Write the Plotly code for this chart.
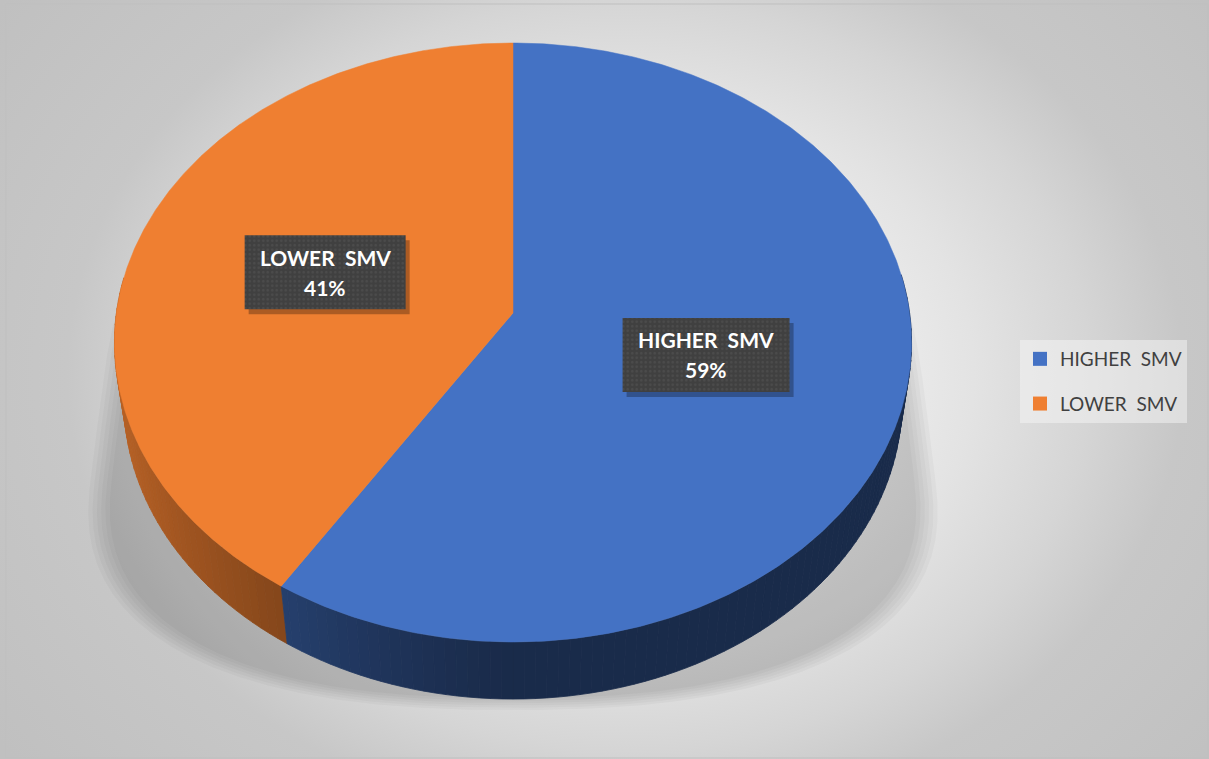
import numpy as np
import plotly.graph_objects as go

# ---------------- data ----------------
categories = ["HIGHER\u00a0\u00a0SMV", "LOWER\u00a0\u00a0SMV"]
values = [59, 41]
slice_colors = ["#4472C4", "#EF7F31"]

# ---------------- geometry / style ----------------
W, H = 1209, 759
PIE_CX, PIE_CY = 513.0, 313.0      # screen position of pie centre (top face)
PIE_RX, PIE_RY = 396.6, 296.6      # radii
PERSP = 0.0985                      # perspective strength (depth direction)
DEPTH_PX, DEPTH_PERSP = 60.8, 0.0243
LABEL_R = 0.5
LABEL_BOX_W = [167, 161]
LABEL_BOX_H = 74
FONT = "Lato"


def project(theta_deg, r=1.0, z=0.0):
    t = np.radians(theta_deg)
    X = r * np.sin(t)
    Y = -r * np.cos(t)
    w = 1 - PERSP * Y + DEPTH_PERSP * z
    return PIE_CX + PIE_RX * X / w, PIE_CY + (PIE_RY * Y + DEPTH_PX * z) / w


def hex_rgb(h):
    h = h.lstrip("#")
    return [int(h[i:i + 2], 16) for i in (0, 2, 4)]


def shade(h, f):
    r, g, b = hex_rgb(h)
    return "rgb(%d,%d,%d)" % (min(255, r * f), min(255, g * f), min(255, b * f))


fig = go.Figure()

# background panel with radial gradient
fig.add_trace(go.Scatter(
    x=[-150, 1400, 1400, -150, -150], y=[-250, -250, 1000, 1000, -250], mode="lines",
    line=dict(width=0), fill="toself",
    fillgradient=dict(type="radial",
                      colorscale=[[0, "#f7f7f7"], [0.3, "#eeeeee"], [0.45, "#e3e3e3"],
                                  [0.6, "#d5d5d5"], [0.72, "#c7c7c7"], [1, "#c0c0c0"]]),
    hoverinfo="skip", showlegend=False))

# soft shadow behind the pie (layered)
SH_CY = 478.0


def shadow_outline(scale):
    phi = np.linspace(0, 2 * np.pi, 721)
    c, s = np.cos(phi), np.sin(phi)
    n = np.where(s < 0, 6.0, 2.4)
    b = np.where(s < 0, 255.0, 232.0)
    yy = SH_CY + b * scale * np.sign(s) * np.abs(s) ** (2 / n)
    a = 425 + 0.126 * (yy - 500)
    xx = PIE_CX + a * scale * np.sign(c) * np.abs(c) ** (2 / n)
    return xx, yy


for sc in [1.0, 0.99, 0.98, 0.97, 0.96, 0.95]:
    xx, yy = shadow_outline(sc)
    fig.add_trace(go.Scatter(x=xx, y=yy, mode="lines", line=dict(width=0),
                             fill="toself", fillcolor="rgba(0,0,0,0.028)",
                             hoverinfo="skip", showlegend=False))

# slice angle ranges
total = float(sum(values))
ranges = []
acc = 0.0
for v in values:
    a0 = 360 * acc / total
    acc += v
    a1 = 360 * acc / total
    ranges.append((a0, a1))

# side strips
strips = []
for (a0, a1), col in zip(ranges, slice_colors):
    edges = np.arange(a0, a1, 1.5)
    edges = np.append(edges, a1)
    for ta, tb in zip(edges[:-1], edges[1:]):
        tm = 0.5 * (ta + tb)
        ymid = -np.cos(np.radians(tm))
        if ymid < -0.12:
            continue
        bright = 0.38 + 0.40 * max(0.0, -np.sin(np.radians(tm))) ** 1.3
        strips.append((ymid, ta, tb, shade(col, bright)))
strips.sort(key=lambda s: s[0])
for _, ta, tb, colr in strips:
    th = np.linspace(ta, tb, 4)
    xt, yt = project(th, 1.0, 0.0)
    xb, yb = project(th[::-1], 1.0, 1.0)
    xs = np.concatenate([xt, xb, xt[:1]])
    ys = np.concatenate([yt, yb, yt[:1]])
    fig.add_trace(go.Scatter(x=xs, y=ys, mode="lines", line=dict(width=0.8, color=colr),
                             fill="toself", fillcolor=colr, hoverinfo="skip",
                             showlegend=False))

# top faces
for (a0, a1), col, name in zip(ranges, slice_colors, categories):
    th = np.linspace(a0, a1, 400)
    xa, ya = project(th, 1.0, 0.0)
    cx, cy = project(0.0, 0.0, 0.0)
    xs = np.concatenate([[cx], xa, [cx]])
    ys = np.concatenate([[cy], ya, [cy]])
    fig.add_trace(go.Scatter(x=xs, y=ys, mode="lines", line=dict(width=0.5, color=col),
                             fill="toself", fillcolor=col, hoverinfo="skip",
                             showlegend=False))

# data labels
annotations = []
for (a0, a1), name, v, bw in zip(ranges, categories, values, LABEL_BOX_W):
    lx, ly = project(0.5 * (a0 + a1), LABEL_R, 0.0)
    lx, ly = float(lx), float(ly)
    hw, hh = bw / 2, LABEL_BOX_H / 2
    # box shadow
    fig.add_trace(go.Scatter(
        x=[lx - hw + 4, lx + hw + 4, lx + hw + 4, lx - hw + 4, lx - hw + 4],
        y=[ly - hh + 5, ly - hh + 5, ly + hh + 5, ly + hh + 5, ly - hh + 5],
        mode="lines", line=dict(width=0), fill="toself",
        fillcolor="rgba(0,0,0,0.28)", hoverinfo="skip", showlegend=False))
    # box with dotted pattern
    fig.add_trace(go.Scatter(
        x=[lx - hw, lx + hw, lx + hw, lx - hw, lx - hw],
        y=[ly - hh, ly - hh, ly + hh, ly + hh, ly - hh],
        mode="lines", line=dict(width=0), fill="toself", fillcolor="#404040",
        fillpattern=dict(shape=".", bgcolor="#404040", fgcolor="#585858",
                         size=4.5, solidity=0.25),
        hoverinfo="skip", showlegend=False))
    annotations.append(dict(x=lx, y=ly - 15, xref="x", yref="y", text="<b>%s</b>" % name,
                            showarrow=False, font=dict(family=FONT, size=21, color="white")))
    annotations.append(dict(x=lx, y=ly + 15, xref="x", yref="y",
                            text="<b>%d%%</b>" % round(100 * v / total),
                            showarrow=False, font=dict(family=FONT, size=21, color="white")))

# legend entries
for name, col in zip(categories, slice_colors):
    fig.add_trace(go.Scatter(x=[None], y=[None], mode="markers", name=name,
                             legendgroup=name,
                             marker=dict(symbol="square", size=14, color=col)))

fig.update_layout(
    width=W, height=H, autosize=False,
    margin=dict(l=0, r=0, t=0, b=0, pad=0),
    paper_bgcolor="white", plot_bgcolor="white",
    xaxis=dict(range=[0, W], visible=False, fixedrange=True),
    yaxis=dict(range=[H, 0], visible=False, fixedrange=True),
    annotations=annotations,
    showlegend=True,
    legend=dict(x=1020 / W, y=1 - 340 / H, xanchor="left", yanchor="top",
                bgcolor="rgba(245,245,245,0.5)", borderwidth=0,
                font=dict(family=FONT, size=19, color="#404040"),
                traceorder="grouped", tracegroupgap=17, itemsizing="trace"),
    shapes=[dict(type="rect", xref="x", yref="y", x0=6, y0=4, x1=1208, y1=758,
                 line=dict(color="#bfbfbf", width=1), fillcolor="rgba(0,0,0,0)")],
)

fig.write_html("out.html")
